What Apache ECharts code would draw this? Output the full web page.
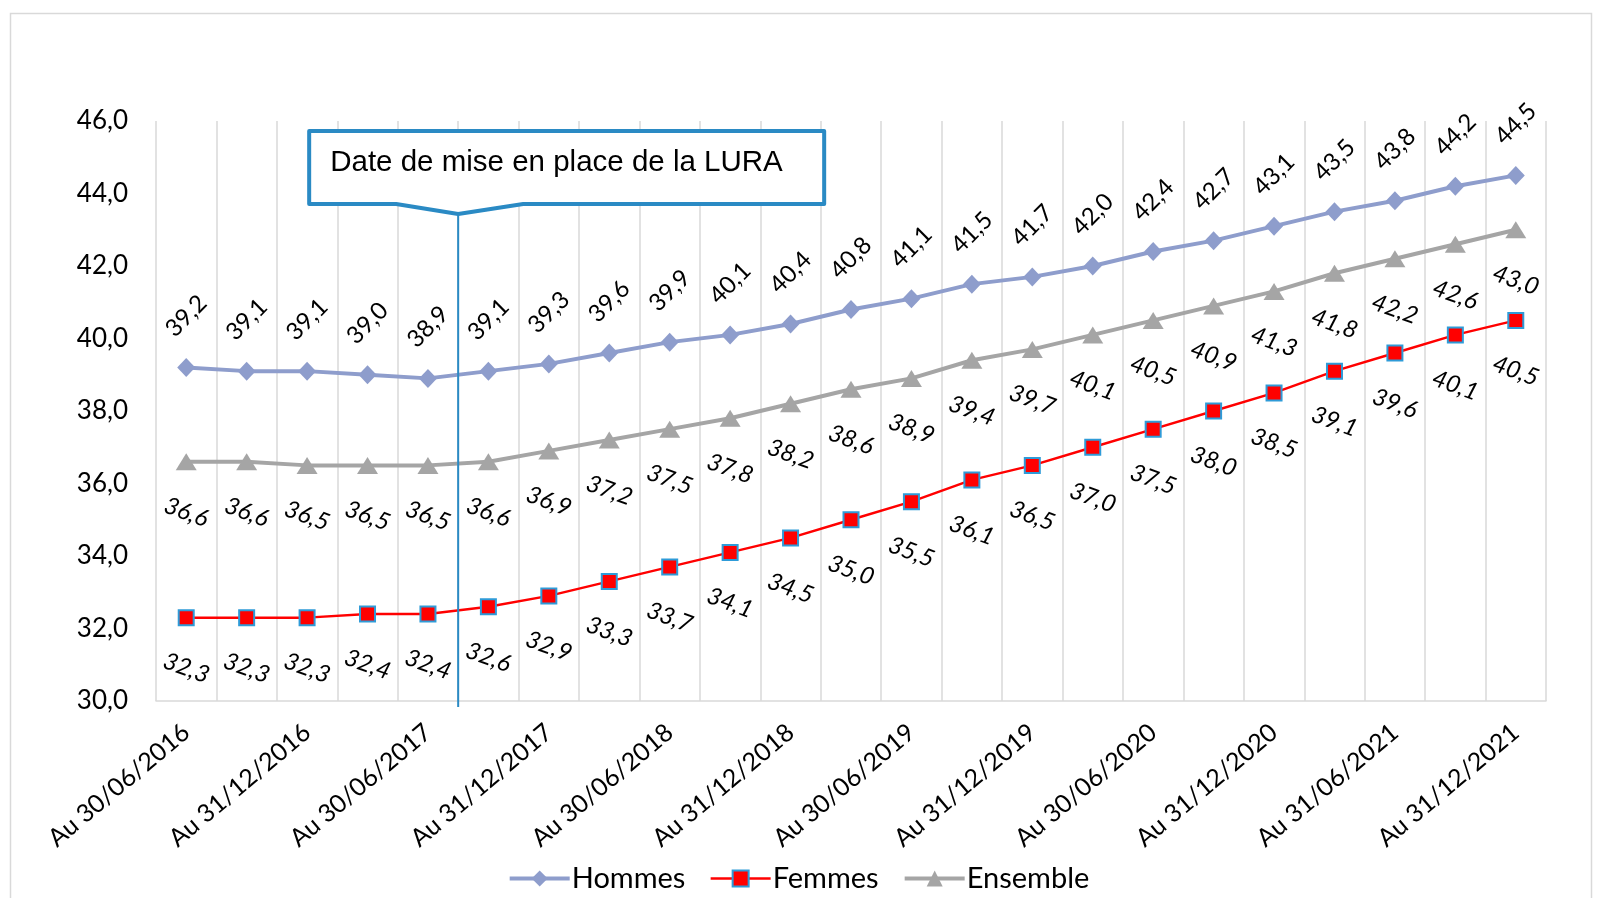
<!DOCTYPE html>
<html>
<head>
<meta charset="utf-8">
<script src="https://cdn.jsdelivr.net/npm/echarts@6/dist/echarts.min.js"></script>
<style>
html,body{margin:0;padding:0;background:#fff;}
#chart{width:1597px;height:898px;}
</style>
</head>
<body>
<div id="chart"></div>
<script>
const categories = [
  'Au 30/06/2016','Au 30/09/2016','Au 31/12/2016','Au 31/03/2017','Au 30/06/2017','Au 30/09/2017',
  'Au 31/12/2017','Au 31/03/2018','Au 30/06/2018','Au 30/09/2018','Au 31/12/2018','Au 31/03/2019',
  'Au 30/06/2019','Au 30/09/2019','Au 31/12/2019','Au 31/03/2020','Au 30/06/2020','Au 30/09/2020',
  'Au 31/12/2020','Au 31/03/2021','Au 31/06/2021','Au 30/09/2021','Au 31/12/2021'
];
const hommes = [39.2,39.1,39.1,39.0,38.9,39.1,39.3,39.6,39.9,40.1,40.4,40.8,41.1,41.5,41.7,42.0,42.4,42.7,43.1,43.5,43.8,44.2,44.5];
const femmes = [32.3,32.3,32.3,32.4,32.4,32.6,32.9,33.3,33.7,34.1,34.5,35.0,35.5,36.1,36.5,37.0,37.5,38.0,38.5,39.1,39.6,40.1,40.5];
const ensemble = [36.6,36.6,36.5,36.5,36.5,36.6,36.9,37.2,37.5,37.8,38.2,38.6,38.9,39.4,39.7,40.1,40.5,40.9,41.3,41.8,42.2,42.6,43.0];
const yTicks = {min:30, max:46, interval:2};
const annotationText = 'Date de mise en place de la LURA';
const annotationAfterIndex = 4; // line between categories 4 and 5

const fmt = v => Number(v).toFixed(1).replace('.', ',');
const cHommes = '#8E9DCC', cFemmes = '#FF0000', cEnsemble = '#A5A5A5', cFemBorder = '#2E9BD8';

const chart = echarts.init(document.getElementById('chart'), null, {renderer:'canvas'});
const option = {
  backgroundColor:'#fff',
  animation:false,
  textStyle:{fontFamily:'Lato'},
  grid:{left:156, right:51, top:121, bottom:197, containLabel:false},
  legend:{
    data:[
      {name:'Hommes', lineStyle:{width:4, color:cHommes}},
      {name:'Femmes', lineStyle:{width:2.5, color:cFemmes}},
      {name:'Ensemble', lineStyle:{width:4, color:cEnsemble}}
    ],
    left:'center', top:859,
    itemWidth:60, itemHeight:20, itemGap:24,
    textStyle:{fontFamily:'Lato', fontSize:29, color:'#000', padding:[0,0,0,-3]}
  },
  xAxis:{
    type:'category', data:categories, boundaryGap:true,
    axisLine:{show:true, lineStyle:{color:'#D9D9D9', width:1.5}},
    axisTick:{show:false},
    splitLine:{show:true, interval:0, lineStyle:{color:'#D9D9D9', width:1.5}},
    axisLabel:{interval:1, rotate:40, margin:28, fontFamily:'Lato', fontSize:25, color:'#000'}
  },
  yAxis:{
    type:'value', min:yTicks.min, max:yTicks.max, interval:yTicks.interval,
    axisLine:{show:false}, axisTick:{show:false},
    splitLine:{show:false},
    axisLabel:{formatter:fmt, fontFamily:'Lato', fontSize:26, color:'#000', margin:28}
  },
  series:[
    {
      name:'Hommes', type:'line', data:hommes, z:3,
      symbol:'diamond', symbolSize:[18,19],
      lineStyle:{color:cHommes, width:4},
      itemStyle:{color:cHommes, borderWidth:0},
      label:{show:true, position:'top', distance:42, rotate:45, align:'center', verticalAlign:'middle',
        formatter:p=>fmt(p.value), fontFamily:'Lato', fontSize:24, color:'#000'}
    },
    {
      name:'Femmes', type:'line', data:femmes, z:4,
      symbol:'rect', symbolSize:15,
      lineStyle:{color:cFemmes, width:2.5},
      itemStyle:{color:cFemmes, borderColor:cFemBorder, borderWidth:2},
      label:{show:true, position:'bottom', distance:42, rotate:-20, align:'center', verticalAlign:'middle',
        formatter:p=>fmt(p.value), fontFamily:'Lato', fontStyle:'italic', fontSize:24, color:'#000'}
    },
    {
      name:'Ensemble', type:'line', data:ensemble, z:3,
      symbol:'triangle', symbolSize:[21,17],
      lineStyle:{color:cEnsemble, width:4},
      itemStyle:{color:cEnsemble, borderWidth:0},
      label:{show:true, position:'bottom', distance:42, rotate:-20, align:'center', verticalAlign:'middle',
        formatter:p=>fmt(p.value), fontFamily:'Lato', fontStyle:'italic', fontSize:24, color:'#000'}
    }
  ]
};
chart.setOption(option);

// Annotation (callout box + vertical line) positioned from the axis
const x4 = chart.convertToPixel({xAxisIndex:0}, categories[annotationAfterIndex]);
const x5 = chart.convertToPixel({xAxisIndex:0}, categories[annotationAfterIndex+1]);
const tipX = (x4 + x5) / 2;
const yBottom = chart.convertToPixel({yAxisIndex:0}, yTicks.min);
const boxTop = 131, boxBottom = 204, tipY = 214;
const boxLeft = tipX - 149, boxRight = tipX + 366;
const blue = '#2A8AC4';
chart.setOption({
  graphic:[
    {type:'rect', left:8, top:11, shape:{width:1581, height:900}, style:{fill:null, stroke:'#D9D9D9', lineWidth:1.5}, silent:true, z:0},
    {type:'line', shape:{x1:tipX, y1:tipY, x2:tipX, y2:yBottom+6}, style:{stroke:blue, lineWidth:2}, z:50},
    {type:'polygon', shape:{points:[
      [boxLeft,boxTop],[boxRight,boxTop],[boxRight,boxBottom],[tipX+65,boxBottom],[tipX,tipY],[tipX-62,boxBottom],[boxLeft,boxBottom]
    ]}, style:{fill:'#fff', stroke:blue, lineWidth:4, lineJoin:'round'}, z:51},
    {type:'text', x:boxLeft+21, y:(boxTop+boxBottom)/2 - 5, style:{text:annotationText, fontFamily:'Liberation Sans', fontSize:29.5, fill:'#000', verticalAlign:'middle', align:'left'}, z:52}
  ]
});
</script>
</body>
</html>
